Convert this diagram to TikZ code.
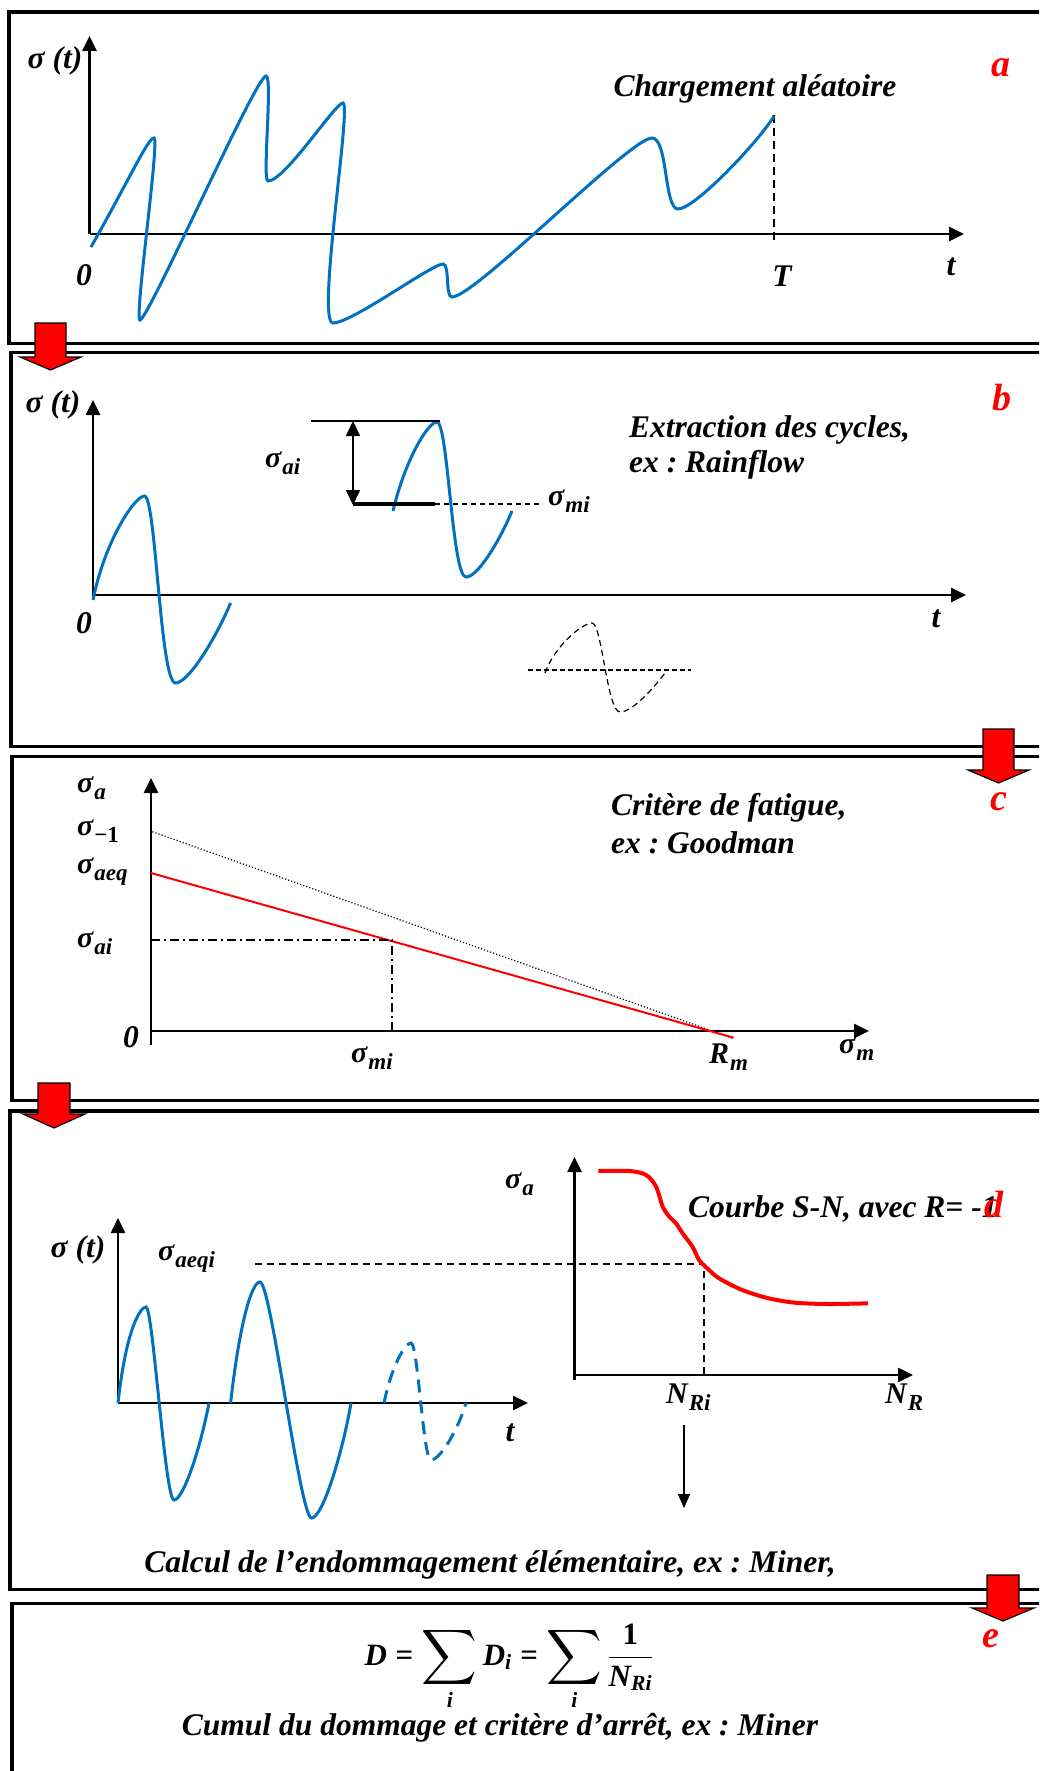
\RequirePackage{fix-cm}
\documentclass[tikz,border=0pt]{standalone}
\usepackage{amsmath}
\usepackage{graphicx}
\usepackage{fontspec}
\setmainfont{Liberation Serif}
\usetikzlibrary{arrows.meta}
\definecolor{sigblue}{RGB}{0,112,192}
\newcommand{\sgl}[2]{#1\kern1pt\raisebox{-0.25em}{\fontsize{23}{26}\selectfont #2}}
\newcommand{\bi}[1]{\text{\bfseries\itshape #1}}
\newcommand{\bigsum}{\mathop{\vcenter{\hbox{\scalebox{1.55}{$\displaystyle\sum$}}}}\limits}
\begin{document}
\begin{tikzpicture}[x=1pt,y=-1pt,
  panel/.style={draw=black,line width=3.5pt},
  ax/.style={line width=2.6pt,-{Triangle[length=15pt,width=14pt]}},
  lab/.style={font=\bfseries\itshape\fontsize{31.5}{36}\selectfont\frenchspacing,inner sep=0pt},
  mlab/.style={font=\bfseries\itshape\fontsize{30}{34}\selectfont,inner sep=0pt},
  tag/.style={text=red,font=\bfseries\itshape\fontsize{38}{44}\selectfont,inner sep=0pt},
  sig/.style={draw=sigblue,line width=3pt},
  redarrow/.style={fill=red,draw=black,line width=1.2pt},
  thin dash/.style={line width=1.4pt,dash pattern=on 7pt off 5pt}
]
\useasboundingbox (0,0) rectangle (1039,1771);
\clip (0,0) rectangle (1039,1771);
\fill[white] (0,0) rectangle (1039,1771);

% ---------- panels
\draw[panel] (9,12) rectangle (1060,343.5);
\draw[panel] (11,352.5) rectangle (1060,746.5);
\draw[panel] (12,756.5) rectangle (1060,1100.5);
\draw[panel] (10,1111) rectangle (1060,1589.5);
\draw[panel] (12,1603.5) rectangle (1060,1790);

% ---------- panel a
\coordinate (aO) at (89.5,234);
\coordinate (aY) at (89.5,36);
\coordinate (aX) at (964,234);
\draw[ax] (aO) -- (aY);
\draw[ax] (aO) -- (aX);
\node[lab] (aSig) at (55,61) {σ (t)};
\node[lab] (aZero) at (84,275) {0};
\node[lab] (aT) at (782,276) {T};
\node[lab] (at) at (951,267) {t};
\node[lab,anchor=base] (aTitle) at (755,97) {Chargement aléatoire};
\node[tag] (aTag) at (1001,68) {a};
\coordinate (aT1) at (774,115);
\coordinate (aT2) at (774,242);
\draw[line width=1.3pt,dash pattern=on 8pt off 5pt] (aT1) -- (aT2);
\draw[sig] (91,247) .. controls (130,178) and (148,138) .. (154,138)
 .. controls (160,138) and (134,320) .. (140,320)
 .. controls (148,320) and (256,76) .. (266,76)
 .. controls (273,76) and (262,181) .. (268,181)
 .. controls (285,181) and (335,103) .. (343,103)
 .. controls (352,103) and (316,323) .. (333,323)
 .. controls (352,323) and (432,264) .. (443,264)
 .. controls (450,264) and (445,297) .. (452,297)
 .. controls (475,297) and (630,138) .. (652,138)
 .. controls (668,138) and (664,209) .. (678,209)
 .. controls (695,209) and (760,140) .. (774,116);

% ---------- panel b
\coordinate (bO) at (93,597);
\coordinate (bY) at (93,400);
\coordinate (bX) at (966,595);
\draw[ax] (bO) -- (bY);
\draw[ax] (93,595) -- (bX);
\node[lab] (bSig) at (53,405) {σ (t)};
\node[lab] (bZero) at (84,623) {0};
\node[lab] (bt) at (936,619) {t};
\node[tag] (bTag) at (1002,398) {b};
\node[lab,anchor=base west] (bTitle1) at (629,437) {Extraction des cycles,};
\node[lab,anchor=base west] (bTitle2) at (629,472) {ex : Rainflow};
\draw[sig] (93,600) .. controls (105,540) and (135,496) .. (144.5,496)
 .. controls (156,496) and (160,683) .. (175.6,683)
 .. controls (188,683) and (215,640) .. (230.6,603);
\draw[sig] (393,511) .. controls (405,460) and (428,422) .. (437,422)
 .. controls (448,422) and (452,577) .. (466,577)
 .. controls (478,577) and (500,540) .. (512,511);
\coordinate (bTop1) at (311,421);
\coordinate (bTop2) at (440,421);
\draw[line width=1.4pt] (bTop1) -- (bTop2);
\coordinate (bArT) at (353,421);
\coordinate (bArB) at (353,505);
\draw[line width=1.6pt,{Triangle[length=15pt,width=14pt]}-{Triangle[length=15pt,width=14pt]}] (bArB) -- (bArT);
\coordinate (bM1) at (353,504);
\coordinate (bM2) at (435,504);
\coordinate (bM3) at (543,504);
\draw[line width=4pt] (bM1) -- (bM2);
\draw[line width=1.4pt,dash pattern=on 5pt off 4pt] (bM2) -- (bM3);
\node[mlab,anchor=base west] (bSai) at (265,467) {\sgl{σ}{ai}};
\node[mlab,anchor=base west] (bSmi) at (548,505) {\sgl{σ}{mi}};
\coordinate (bD1) at (528,670);
\coordinate (bD2) at (691,670);
\draw[line width=1.2pt,dash pattern=on 5pt off 3pt] (bD1) -- (bD2);
\draw[line width=1.2pt,dash pattern=on 6pt off 4pt] (545,673) .. controls (555,645) and (583,623) .. (592,623)
 .. controls (602,623) and (607,712) .. (620,712)
 .. controls (632,712) and (652,690) .. (665,673);

% ---------- panel c
\coordinate (cO) at (151,1031);
\draw[ax] (151,1045) -- (151,778);
\draw[ax] (cO) -- (869,1031);
\node[mlab,anchor=base west] (cSa) at (77,792) {\sgl{σ}{a}};
\node[mlab,anchor=base west] (cSm1) at (77,835) {\sgl{σ}{\upshape −1}};
\node[mlab,anchor=base west] (cSaeq) at (77,873) {\sgl{σ}{aeq}};
\node[mlab,anchor=base west] (cSai) at (77,947) {\sgl{σ}{ai}};
\node[lab] (cZero) at (131,1037) {0};
\node[mlab,anchor=base west] (cSmi) at (351,1062) {\sgl{σ}{mi}};
\node[mlab,anchor=base west] (cRm) at (709,1063) {\sgl{R}{m}};
\node[mlab,anchor=base west] (cSm) at (839,1053) {\sgl{σ}{m}};
\node[lab,anchor=base west] (cTitle1) at (611,815) {Critère de fatigue,};
\node[lab,anchor=base west] (cTitle2) at (611,853) {ex : Goodman};
\node[tag] (cTag) at (999,802) {c};
\draw[line width=1.2pt,dotted] (152.4,831.7) -- (732,1038);
\draw[red,line width=2pt] (151,873) -- (733.6,1037.7);
\draw[line width=1.4pt,dash pattern=on 9pt off 4pt on 2pt off 4pt] (151,940) -- (392,940) -- (392,1033);

% ---------- panel d
\coordinate (dO) at (118,1403);
\draw[ax] (dO) -- (118,1218);
\draw[ax] (dO) -- (528,1403);
\node[lab] (dSig) at (78,1250) {σ (t)};
\node[lab] (dt) at (510,1433) {t};
\node[mlab,anchor=base west] (dSaeqi) at (158,1260) {\sgl{σ}{aeqi}};
\coordinate (dO2) at (574.5,1375);
\draw[ax] (574.5,1380) -- (574.5,1157);
\draw[ax] (dO2) -- (913,1375);
\node[mlab,anchor=base west] (dSa) at (505,1188) {\sgl{σ}{a}};
\node[mlab,anchor=base west] (dNRi) at (666,1403) {\sgl{N}{Ri}};
\node[mlab,anchor=base west] (dNR) at (885,1403) {\sgl{N}{R}};
\draw[thin dash] (255,1264) -- (704,1264) -- (704,1375);
\draw[red,line width=4pt] plot[smooth,tension=0.5] coordinates {
 (598.4,1171) (629.6,1171) (646.1,1175) (656.1,1186.7) (662.7,1206.7)
 (669.3,1216.7) (676,1223.3) (682.6,1233.3) (692.5,1246.7) (699.1,1260)
 (709.1,1270) (719,1278.3) (742.2,1290) (768.7,1298.3) (795.2,1302.7)
 (828.4,1304) (868.1,1303.3)};
\node[lab,anchor=base west] (dTitle) at (688,1217) {Courbe S-N, avec R= -1};
\node[tag] (dTag) at (994,1204) {d};
\coordinate (dA1) at (684,1425);
\coordinate (dA2) at (684,1508);
\draw[line width=1.5pt,-{Triangle[length=14pt,width=12pt]}] (dA1) -- (dA2);
\draw[sig] (118,1403) .. controls (126,1330) and (140,1307) .. (146,1307)
 .. controls (153,1307) and (165,1500) .. (174,1500)
 .. controls (183,1500) and (200,1450) .. (209,1403);
\draw[sig] (230.6,1403) .. controls (240,1320) and (252,1282) .. (260,1282)
 .. controls (271,1282) and (300,1518) .. (311.5,1518)
 .. controls (323,1518) and (343,1450) .. (351,1403);
\draw[sig,dash pattern=on 13pt off 8pt] (384,1403) .. controls (392,1365) and (405,1343) .. (411,1343)
 .. controls (418,1343) and (423,1460) .. (431,1460)
 .. controls (440,1460) and (458,1430) .. (466,1403);
\node[lab,anchor=base] (dCalc) at (490,1572) {Calcul de l’endommagement élémentaire, ex : Miner,};

% ---------- panel e
\node[font=\fontsize{31}{36}\selectfont,inner sep=0pt,anchor=base] (eForm) at (509,1665)
  {$\displaystyle \bi{D}\mathrel{\text{\bfseries =}}\bigsum_{\bi{i}} \bi{D}_{\bi{i}}\mathrel{\text{\bfseries =}}\bigsum_{\bi{i}}\frac{\text{\bfseries 1}}{\bi{N}_{\bi{Ri}}}$};
\node[lab,anchor=base] (eText) at (500,1735) {Cumul du dommage et critère d’arrêt, ex : Miner};
\node[tag] (eTag) at (991,1639) {e};

% ---------- red arrows
\path[redarrow] (35,323) -- (66,323) -- (66,357) -- (81,357) -- (50.5,370) -- (20,357) -- (35,357) -- cycle;
\path[redarrow] (983,729) -- (1014,729) -- (1014,770) -- (1029,770) -- (998.5,783) -- (968,770) -- (983,770) -- cycle;
\path[redarrow] (38,1083) -- (70,1083) -- (70,1114) -- (85,1114) -- (54,1128) -- (23,1114) -- (38,1114) -- cycle;
\path[redarrow] (987,1575) -- (1019,1575) -- (1019,1608) -- (1034,1608) -- (1003,1621) -- (972,1608) -- (987,1608) -- cycle;
\end{tikzpicture}
\end{document}
